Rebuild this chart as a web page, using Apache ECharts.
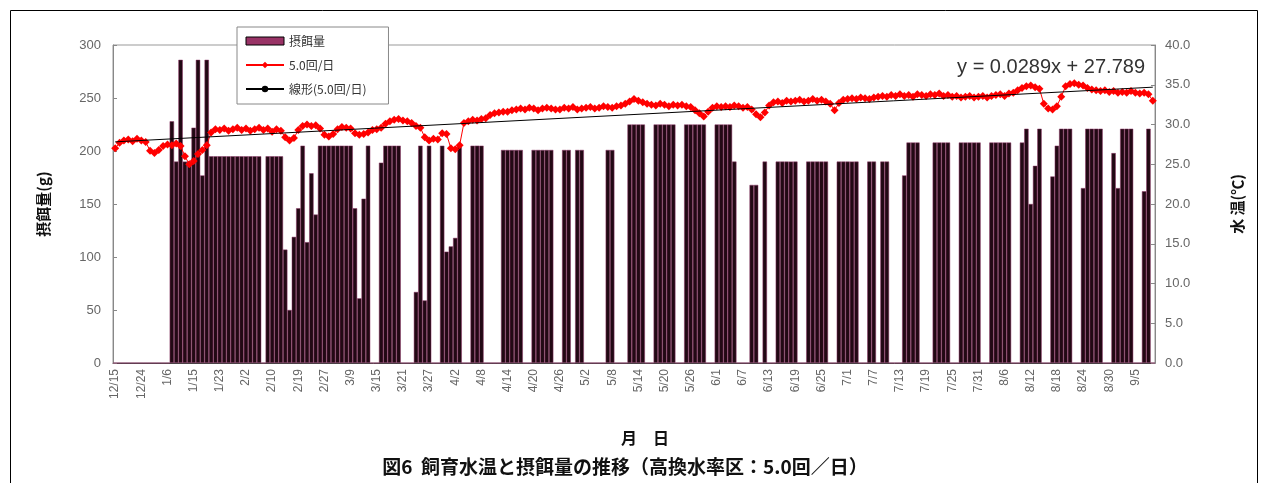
<!DOCTYPE html>
<html>
<head>
<meta charset="utf-8">
<script src="https://cdn.jsdelivr.net/npm/echarts@6/dist/echarts.min.js"></script>
<style>
html, body { margin: 0; padding: 0; background: #fff; }
#chart { width: 1270px; height: 483px; }
</style>
</head>
<body>
<div id="chart"></div>
<script>
// 月日（3/9までは飛び日あり、以降は毎日）
const days = [
  '12/15','12/16','12/17','12/18','12/21','12/22','12/24',
  '12/25','12/26','12/28','1/4','1/5','1/6',
  '1/7','1/8','1/9','1/12','1/13','1/15',
  '1/16','1/18','1/19','1/20','1/22','1/23',
  '1/25','1/26','1/27','1/29','2/1','2/2',
  '2/3','2/4','2/5','2/8','2/9','2/10',
  '2/12','2/13','2/15','2/16','2/18','2/19',
  '2/20','2/22','2/23','2/24','2/26','2/27',
  '3/1','3/2','3/4','3/5','3/8','3/9',
  '3/10','3/11','3/12','3/13','3/14','3/15','3/16','3/17','3/18','3/19','3/20',
  '3/21','3/22','3/23','3/24','3/25','3/26','3/27','3/28','3/29','3/30','3/31',
  '4/1','4/2','4/3','4/4','4/5','4/6','4/7','4/8','4/9','4/10',
  '4/11','4/12','4/13','4/14','4/15','4/16','4/17','4/18','4/19','4/20',
  '4/21','4/22','4/23','4/24','4/25','4/26','4/27','4/28','4/29','4/30',
  '5/1','5/2','5/3','5/4','5/5','5/6','5/7','5/8','5/9','5/10',
  '5/11','5/12','5/13','5/14','5/15','5/16','5/17','5/18','5/19','5/20',
  '5/21','5/22','5/23','5/24','5/25','5/26','5/27','5/28','5/29','5/30','5/31',
  '6/1','6/2','6/3','6/4','6/5','6/6','6/7','6/8','6/9','6/10',
  '6/11','6/12','6/13','6/14','6/15','6/16','6/17','6/18','6/19','6/20',
  '6/21','6/22','6/23','6/24','6/25','6/26','6/27','6/28','6/29','6/30',
  '7/1','7/2','7/3','7/4','7/5','7/6','7/7','7/8','7/9','7/10',
  '7/11','7/12','7/13','7/14','7/15','7/16','7/17','7/18','7/19','7/20',
  '7/21','7/22','7/23','7/24','7/25','7/26','7/27','7/28','7/29','7/30','7/31',
  '8/1','8/2','8/3','8/4','8/5','8/6','8/7','8/8','8/9','8/10',
  '8/11','8/12','8/13','8/14','8/15','8/16','8/17','8/18','8/19','8/20',
  '8/21','8/22','8/23','8/24','8/25','8/26','8/27','8/28','8/29','8/30','8/31',
  '9/1','9/2','9/3','9/4','9/5','9/6','9/7','9/8','9/9'
];

// 摂餌量 (g)
const feed = [
  0,0,0,0,0,0,0,0,0,0,
  0,0,0,228,190,286,190,190,222,286,
  177,286,195,195,195,195,195,195,195,195,
  195,195,195,195,0,195,195,195,195,107,
  50,119,146,205,114,179,140,205,205,205,
  205,205,205,205,205,146,61,155,205,0,
  0,189,205,205,205,205,0,0,0,67,
  205,59,205,0,0,205,105,110,118,205,
  0,0,205,205,205,0,0,0,0,201,
  201,201,201,201,0,0,201,201,201,201,
  201,0,0,201,201,0,201,201,0,0,
  0,0,0,201,201,0,0,0,225,225,
  225,225,0,0,225,225,225,225,225,0,
  0,225,225,225,225,225,0,0,225,225,
  225,225,190,0,0,0,168,168,0,190,
  0,0,190,190,190,190,190,0,0,190,
  190,190,190,190,0,0,190,190,190,190,
  190,0,0,190,190,0,190,190,0,0,
  0,177,208,208,208,0,0,0,208,208,
  208,208,0,0,208,208,208,208,208,0,
  0,208,208,208,208,208,0,0,208,221,
  150,186,221,0,0,176,205,221,221,221,
  0,0,165,221,221,221,221,0,0,198,
  165,221,221,221,0,0,162,221,0
];

// 水温 (℃) 5.0回/日
const temp = [
  27.0,27.7,28.0,28.1,27.9,28.2,28.0,27.8,26.7,26.4,
  26.8,27.3,27.5,27.4,27.6,27.3,26.0,25.0,25.4,26.3,
  26.8,27.4,29.0,29.4,29.3,29.5,29.2,29.4,29.6,29.3,
  29.5,29.2,29.4,29.6,29.3,29.5,29.1,29.4,29.2,28.4,
  28.0,28.3,29.3,29.8,30.0,29.8,29.9,29.5,28.7,28.5,
  28.8,29.4,29.7,29.6,29.5,28.9,28.7,28.8,29.0,29.3,
  29.4,29.6,30.1,30.4,30.6,30.7,30.5,30.4,30.2,29.8,
  29.6,28.4,28.0,28.2,28.1,28.9,28.8,27.0,26.9,27.4,
  30.2,30.4,30.6,30.5,30.7,30.8,31.2,31.4,31.5,31.6,
  31.6,31.8,31.9,32.0,31.9,32.1,32.0,31.8,32.0,32.1,
  32.0,31.9,31.9,32.1,32.0,32.2,31.9,32.0,32.1,32.2,
  32.0,32.1,32.3,32.2,32.1,32.3,32.4,32.6,32.9,33.2,
  33.0,32.8,32.6,32.5,32.4,32.6,32.5,32.3,32.5,32.4,
  32.5,32.3,32.2,31.8,31.4,31.0,31.6,32.1,32.3,32.2,
  32.3,32.2,32.4,32.3,32.1,32.2,31.9,31.3,30.9,31.5,
  32.4,32.8,32.9,32.7,33.0,32.9,33.0,33.1,32.9,33.0,
  33.2,33.0,33.1,32.9,32.6,31.8,32.7,33.1,33.2,33.3,
  33.2,33.4,33.3,33.2,33.4,33.5,33.6,33.5,33.7,33.6,
  33.8,33.6,33.7,33.5,33.8,33.7,33.6,33.8,33.7,33.9,
  33.6,33.7,33.5,33.6,33.4,33.5,33.6,33.4,33.5,33.6,
  33.4,33.6,33.7,33.8,33.6,33.9,34.0,34.3,34.6,34.8,
  34.9,34.7,34.5,32.6,32.0,31.9,32.3,33.5,34.8,35.1,
  35.2,35.0,34.9,34.6,34.4,34.3,34.2,34.3,34.1,34.2,
  34.0,34.1,34.0,34.2,34.0,33.9,34.0,33.8,33.0
];

// 近似直線 y = 0.0289x + 27.789 （図中の式）
const trendA = 0.0289;
const trendB = 27.789;

const leftTicks = [0, 300, 50];
const rightTicks = [0, 40, 5];

const JP = '"Noto Sans CJK JP", sans-serif';
const NUM = '"Liberation Sans", Arial, sans-serif';

// 両端だけ置いて直線でつなぐ
const trend = days.map((d, i) =>
  (i === 0 || i === days.length - 1) ? +(trendA * (i + 1) + trendB).toFixed(3) : null);

const chart = echarts.init(document.getElementById('chart'));

const option = {
  backgroundColor: '#fff',
  animation: false,
  grid: {
    left: 113, right: 115, top: 45, bottom: 120,
    show: true, borderColor: '#999', borderWidth: 1
  },
  legend: {
    orient: 'vertical',
    left: 237, top: 27,
    backgroundColor: '#fff',
    borderColor: '#888', borderWidth: 1,
    padding: [8, 22, 9, 8],
    itemWidth: 38, itemHeight: 8, itemGap: 12,
    textStyle: { fontFamily: JP, fontSize: 12, color: '#333' },
    data: [
      { name: '摂餌量', icon: 'rect', itemStyle: { color: '#993366', borderColor: '#000', borderWidth: 1 } },
      { name: '5.0回/日' },
      { name: '線形(5.0回/日)' }
    ]
  },
  xAxis: {
    type: 'category',
    data: days,
    boundaryGap: true,
    axisLine: { lineStyle: { color: '#444' } },
    axisTick: { interval: 0, length: 3, lineStyle: { color: '#666' } },
    axisLabel: {
      interval: 5, rotate: 90, margin: 6,
      color: '#666', fontSize: 12, fontFamily: NUM
    },
    splitLine: { show: false }
  },
  yAxis: [
    {
      type: 'value',
      min: leftTicks[0], max: leftTicks[1], interval: leftTicks[2],
      position: 'left',
      name: '摂餌量(g)',
      nameLocation: 'middle', nameRotate: 90, nameGap: 62,
      nameTextStyle: { fontFamily: JP, fontWeight: 'bold', fontSize: 15, color: '#111' },
      axisLine: { show: true, lineStyle: { color: '#888' } },
      axisTick: { show: true, inside: true, length: 4, lineStyle: { color: '#888' } },
      axisLabel: { color: '#666', fontSize: 13, fontFamily: NUM, margin: 12 },
      splitLine: { show: false }
    },
    {
      type: 'value',
      min: rightTicks[0], max: rightTicks[1], interval: rightTicks[2],
      position: 'right',
      name: '水 温(℃)',
      nameLocation: 'middle', nameRotate: 90, nameGap: 75,
      nameTextStyle: { fontFamily: JP, fontWeight: 'bold', fontSize: 15, color: '#111' },
      axisLine: { show: true, lineStyle: { color: '#888' } },
      axisTick: { show: true, inside: true, length: 4, lineStyle: { color: '#888' } },
      axisLabel: {
        color: '#666', fontSize: 13, fontFamily: NUM, margin: 10,
        formatter: v => v.toFixed(1)
      },
      splitLine: { show: false }
    }
  ],
  series: [
    {
      name: '摂餌量',
      type: 'bar',
      yAxisIndex: 0,
      data: feed,
      barCategoryGap: '0%',
      itemStyle: { color: '#220914', borderColor: '#8e3566', borderWidth: 0.5 }
    },
    {
      name: '5.0回/日',
      type: 'line',
      yAxisIndex: 1,
      data: temp,
      symbol: 'diamond',
      symbolSize: 8,
      showAllSymbol: true,
      z: 3,
      itemStyle: { color: '#ff0000' },
      lineStyle: { color: '#ff0000', width: 1 }
    },
    {
      name: '線形(5.0回/日)',
      type: 'line',
      yAxisIndex: 1,
      data: trend,
      connectNulls: true,
      symbol: 'none',
      z: 4,
      itemStyle: { color: '#000' },
      lineStyle: { color: '#000', width: 1 }
    }
  ],
  graphic: [
    {
      type: 'rect', silent: true,
      shape: { x: 10.5, y: 10.5, width: 1247, height: 490 },
      style: { fill: 'none', stroke: '#000', lineWidth: 1 }
    },
    {
      type: 'text', silent: true,
      style: {
        text: 'y = 0.0289x + 27.789', x: 1145, y: 67,
        align: 'right', verticalAlign: 'middle',
        fontFamily: NUM, fontSize: 20, fill: '#333'
      }
    },
    {
      type: 'text', silent: true,
      style: {
        text: '月　日', x: 645, y: 438,
        align: 'center', verticalAlign: 'middle',
        fontFamily: JP, fontWeight: 'bold', fontSize: 16, fill: '#111'
      }
    },
    {
      type: 'text', silent: true,
      style: {
        text: '図6  飼育水温と摂餌量の推移（高換水率区：5.0回／日）', x: 625, y: 467,
        align: 'center', verticalAlign: 'middle',
        fontFamily: JP, fontWeight: 'bold', fontSize: 19, fill: '#111'
      }
    }
  ]
};

chart.setOption(option);
</script>
</body>
</html>
